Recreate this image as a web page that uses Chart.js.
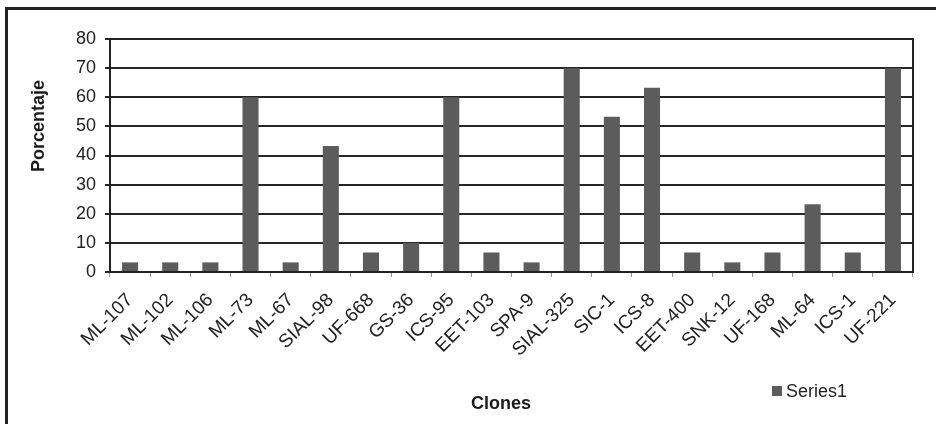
<!DOCTYPE html>
<html>
<head>
<meta charset="utf-8">
<script src="https://cdn.jsdelivr.net/npm/chart.js@4.4.1/dist/chart.umd.min.js"></script>
<style>
  html, body { margin: 0; padding: 0; background: #fff; }
  .wrap { position: relative; width: 936px; height: 424px; overflow: hidden; }
  .frame { position: absolute; left: 5px; top: 7px; right: -10px; bottom: -10px; border: 3px solid #222; pointer-events: none; }
  canvas { position: absolute; left: 0; top: 0; }
</style>
</head>
<body>
<div class="wrap">
  <canvas id="chart" width="936" height="424"></canvas>
  <div class="frame"></div>
</div>
<script>
const clones = ["ML-107", "ML-102", "ML-106", "ML-73", "ML-67", "SIAL-98", "UF-668", "GS-36", "ICS-95", "EET-103",
  "SPA-9", "SIAL-325", "SIC-1", "ICS-8", "EET-400", "SNK-12", "UF-168", "ML-64", "ICS-1", "UF-221"];
const porcentaje = [3.3, 3.3, 3.3, 60, 3.3, 43.3, 6.7, 10, 60, 6.7,
  3.3, 70, 53.3, 63.3, 6.7, 3.3, 6.7, 23.3, 6.7, 70];
const yMax = 80;
const yStep = 10;
const seriesName = "Series1";
const xTitle = "Clones";
const yTitle = "Porcentaje";

const barColor = "#5c5c5c";
const font = "'Liberation Sans', Arial, sans-serif";

// titles, legend and plot frame drawn by hand to match Excel's placement
const decorations = {
  id: "decorations",
  afterDraw(chart) {
    const { ctx, chartArea } = chart;
    ctx.save();
    ctx.strokeStyle = "#222";
    ctx.lineWidth = 2;
    ctx.strokeRect(chartArea.left, chartArea.top, chartArea.right - chartArea.left, chartArea.bottom - chartArea.top);

    ctx.fillStyle = "#1a1a1a";
    ctx.font = "bold 18px " + font;
    ctx.textAlign = "center";
    ctx.textBaseline = "middle";
    ctx.fillText(xTitle, 501, 404);

    ctx.translate(39, 126);
    ctx.rotate(-Math.PI / 2);
    ctx.fillText(yTitle, 0, 0);
    ctx.restore();

    ctx.save();
    ctx.fillStyle = barColor;
    ctx.fillRect(772, 386, 10, 10);
    ctx.fillStyle = "#222";
    ctx.font = "18px " + font;
    ctx.textAlign = "left";
    ctx.textBaseline = "middle";
    ctx.fillText(seriesName, 786, 392);
    ctx.restore();
  },
};

new Chart(document.getElementById("chart"), {
  type: "bar",
  data: {
    labels: clones,
    datasets: [
      {
        label: seriesName,
        data: porcentaje,
        backgroundColor: barColor,
        borderWidth: 0,
        categoryPercentage: 1,
        barPercentage: 0.4,
      },
    ],
  },
  options: {
    responsive: false,
    animation: false,
    layout: { padding: { left: 0, top: 39, right: 23, bottom: 0 } },
    plugins: {
      legend: { display: false },
      tooltip: { enabled: false },
    },
    scales: {
      x: {
        offset: true,
        grid: { offset: true, drawOnChartArea: false, drawTicks: true, tickLength: 5, color: "#999", lineWidth: 1 },
        border: { display: true, color: "#222", width: 2 },
        ticks: {
          color: "#222",
          font: { family: font, size: 19 },
          minRotation: 45,
          maxRotation: 45,
          padding: 12,
          autoSkip: false,
        },
        afterFit(scale) { scale.height = 152; },
      },
      y: {
        min: 0,
        max: yMax,
        grid: { color: "#262626", lineWidth: 2, tickLength: 5 },
        border: { display: true, color: "#222", width: 2 },
        ticks: {
          stepSize: yStep,
          color: "#222",
          font: { family: font, size: 18 },
          padding: 9,
        },
        afterFit(scale) { scale.width = 110; },
      },
    },
  },
  plugins: [decorations],
});
</script>
</body>
</html>
